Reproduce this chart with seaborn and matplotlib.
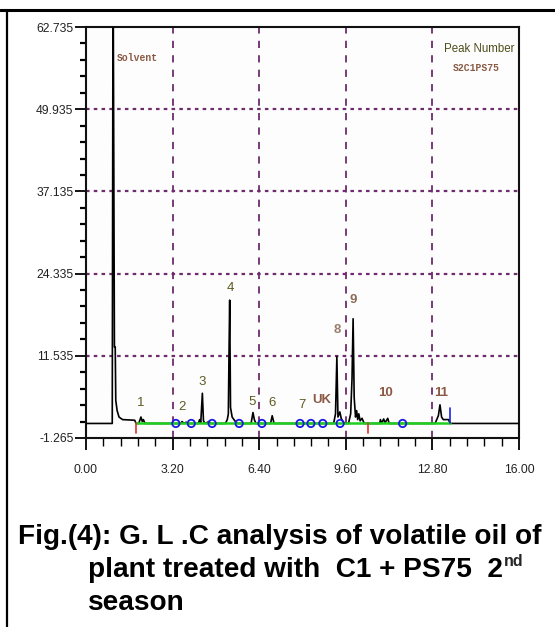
import matplotlib
matplotlib.use("Agg")
import matplotlib.pyplot as plt
import seaborn as sns
import numpy as np
import pandas as pd
from matplotlib.lines import Line2D
from matplotlib.ticker import FixedLocator, MultipleLocator, FormatStrFormatter

# Chromatogram trace (retention time in min, detector response)
trace_time = [0.00, 0.97, 1.00, 1.05, 1.08, 1.10, 1.15, 1.22, 1.35, 1.80, 1.85,
              1.95, 2.03, 2.08, 2.12, 2.18, 3.50, 3.55, 3.62, 3.70, 3.75,
              4.15, 4.20, 4.24, 4.30, 4.34, 4.40, 4.55, 4.60,
              5.15, 5.22, 5.26, 5.28, 5.31, 5.34, 5.40, 5.50, 5.60,
              6.10, 6.17, 6.22, 6.28, 6.82, 6.88, 6.95,
              9.15, 9.22, 9.27, 9.31, 9.38, 9.43, 9.50, 9.60,
              9.70, 9.78, 9.83, 9.87, 9.91, 9.96, 10.00, 10.04, 10.08, 10.13, 10.20, 10.28,
              10.85, 10.88, 10.92, 11.00, 11.05, 11.15, 11.20,
              12.90, 13.02, 13.08, 13.14, 13.20, 13.40, 13.45, 16.00]
trace_signal = [1.0, 1.0, 75.0, 12.9, 12.9, 4.6, 3.0, 2.0, 1.6, 1.5, 1.0,
                1.0, 2.0, 1.3, 1.6, 1.0, 1.0, 1.3, 1.0, 1.2, 1.0,
                1.0, 1.6, 1.1, 5.7, 1.4, 1.0, 1.3, 1.0,
                1.0, 1.6, 2.5, 10.4, 20.2, 3.5, 2.0, 1.4, 1.0,
                1.0, 2.7, 1.6, 1.0, 1.0, 2.2, 1.0,
                1.0, 2.5, 11.4, 2.0, 2.8, 1.8, 1.2, 1.0,
                1.0, 2.5, 8.0, 17.3, 5.0, 2.0, 3.0, 1.6, 2.5, 1.4, 1.8, 1.0,
                1.0, 1.6, 1.0, 1.7, 1.1, 1.8, 1.0,
                1.0, 2.2, 3.9, 2.0, 1.6, 1.6, 1.0, 1.0]

# Integration baseline and markers
baseline_start = 1.85
baseline_end = 13.45
baseline_level = 1.0
red_marks = [1.85, 10.43]
blue_circles = [3.32, 3.89, 4.66, 5.66, 6.50, 7.91, 8.31, 8.75, 9.39, 11.70]

# Peak labels
peak_labels = ["1", "2", "3", "4", "5", "6", "7", "UK", "8", "9", "10", "11"]
label_time = [2.02, 3.55, 4.29, 5.32, 6.14, 6.87, 7.98, 8.72, 9.27, 9.87, 11.05, 13.12]
label_y = [4.2, 3.6, 7.4, 22.1, 4.3, 4.2, 3.9, 4.6, 15.6, 20.2, 5.7, 5.7]
label_colors = ["#5c5a20"] * 7 + ["#8a5a45", "#9a7d6c", "#8a6a58", "#8a5a45", "#8a5a45"]

y_ticks = [-1.265, 11.535, 24.335, 37.135, 49.935, 62.735]
x_ticks = [0.0, 3.2, 6.4, 9.6, 12.8, 16.0]

sns.set_style("white")
plt.rcParams["font.family"] = ["Liberation Sans", "DejaVu Sans"]

fig = plt.figure(figsize=(5.55, 6.27), dpi=100)
ax = fig.add_axes([86 / 555, 1 - 438 / 627, 433 / 555, 411 / 627])

grid_color = "#6e2c6e"
for gx in x_ticks[1:-1]:
    ax.axvline(gx, color=grid_color, lw=1.3, ls=(0, (4, 4)), zorder=1)
for gy in y_ticks[1:-1]:
    ax.axhline(gy, color=grid_color, lw=1.6, ls=(0, (1.6, 1.9)), zorder=1)

trace = pd.DataFrame({"time": trace_time, "signal": trace_signal})
sns.lineplot(data=trace, x="time", y="signal", color="black", lw=1.2,
             sort=False, ax=ax, zorder=3)

ax.plot([baseline_start, baseline_end], [baseline_level, baseline_level],
        color="#1ed01e", lw=1.8, zorder=4)
for rx in red_marks:
    ax.plot([rx, rx], [baseline_level, -0.5], color="#e03030", lw=1.2, zorder=4)
ax.plot([baseline_end, baseline_end], [baseline_level, 3.4], color="#2020e0", lw=1.2, zorder=5)

circles = pd.DataFrame({"time": blue_circles, "signal": [baseline_level] * len(blue_circles)})
sns.scatterplot(data=circles, x="time", y="signal", ax=ax, s=28, marker="o",
                facecolors="none", edgecolor="#1a1ae6", linewidth=1.3, zorder=6)

for lab, tx, ty, c in zip(peak_labels, label_time, label_y, label_colors):
    ax.text(tx, ty, lab, color=c, fontsize=9.5, ha="center", va="center",
            fontweight="bold" if lab in ("UK", "10", "11", "8", "9") else "normal", zorder=7)

ax.text(1.14, 57.9, "Solvent", color="#8a5a45", fontsize=7, fontweight="bold",
        family=["Liberation Mono", "DejaVu Sans Mono"], ha="left", va="center")
ax.text(14.52, 59.3, "Peak Number", color="#4e4e1c", fontsize=8.3, ha="center", va="center")
ax.text(14.42, 56.4, "S2C1PS75", color="#8a5a45", fontsize=7, fontweight="bold",
        family=["Liberation Mono", "DejaVu Sans Mono"], ha="center", va="center")

ax.set_xlim(0, 16)
ax.set_ylim(-1.265, 62.735)
ax.set_xlabel("")
ax.set_ylabel("")
ax.xaxis.set_major_locator(FixedLocator(x_ticks))
ax.xaxis.set_minor_locator(MultipleLocator(0.64))
ax.yaxis.set_major_locator(FixedLocator(y_ticks))
ax.yaxis.set_minor_locator(FixedLocator(np.arange(-1.265, 62.8, 2.56)))
ax.xaxis.set_major_formatter(FormatStrFormatter("%.2f"))
ax.yaxis.set_major_formatter(FormatStrFormatter("%.3f"))

ax.tick_params(axis="x", which="major", direction="out", length=8.5, width=1.3,
               color="black", labelsize=8.7, labelcolor="#222222", pad=10, bottom=True)
ax.tick_params(axis="x", which="minor", direction="out", length=6, width=1.0,
               color="black", bottom=True)
ax.tick_params(axis="y", which="major", direction="out", length=8, width=1.3,
               color="black", labelsize=8.7, labelcolor="#222222", pad=1, left=True)
ax.tick_params(axis="y", which="minor", direction="out", length=4.3, width=1.6,
               color="black", left=True)
for side in ["left", "bottom", "top", "right"]:
    ax.spines[side].set_visible(True)
    ax.spines[side].set_color("#111111")
    ax.spines[side].set_linewidth(1.5)
ax.set_facecolor("#fdfdfd")

# Page frame (table cell borders)
fig.add_artist(Line2D([0, 1], [1 - 10 / 627, 1 - 10 / 627], color="black", lw=2.2,
                      transform=fig.transFigure))
fig.add_artist(Line2D([7 / 555, 7 / 555], [0, 1 - 10 / 627], color="black", lw=1.6,
                      transform=fig.transFigure))

# Caption
cap = dict(fontsize=20.2, fontweight="bold", family=["Liberation Sans", "DejaVu Sans"],
           color="black", va="baseline", ha="left")
fig.text(18 / 555, 1 - 544 / 627, "Fig.(4): G. L .C analysis of volatile oil of", **cap)
line2 = fig.text(88 / 555, 1 - 577 / 627, "plant treated with  C1 + PS75  2", **cap)
fig.text(88 / 555, 1 - 610 / 627, "season", **cap)

fig.canvas.draw()
bb = line2.get_window_extent()
fig.text((bb.x1 + 1) / fig.bbox.width, 1 - 566 / 627, "nd", fontsize=11.5, fontweight="bold",
         family=["Liberation Sans", "DejaVu Sans"], va="baseline", ha="left")

fig.savefig("out.png", dpi=100)
